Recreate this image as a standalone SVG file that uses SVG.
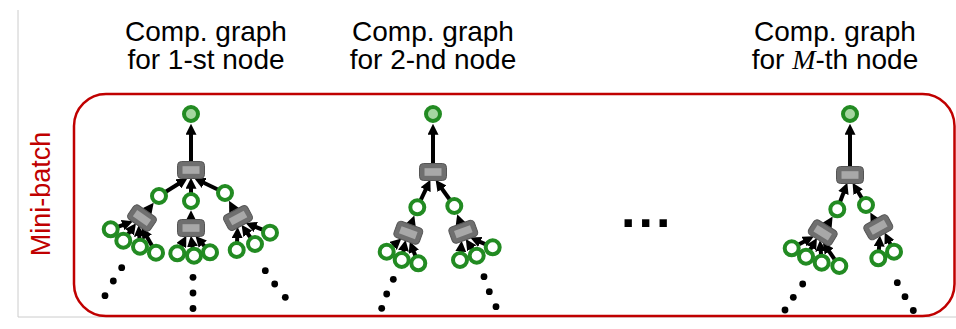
<svg xmlns="http://www.w3.org/2000/svg" xmlns:xlink="http://www.w3.org/1999/xlink" width="956" height="329" viewBox="0 0 956 329">
<style>
.title{font-family:"Liberation Sans",Arial,sans-serif;font-size:28px;fill:#000}
.math{font-family:"Liberation Serif","Times New Roman",serif;font-style:italic}
.side{font-family:"Liberation Sans",Arial,sans-serif;font-size:27px;fill:#c00000}
.leaf{fill:#fff;stroke:#228b22;stroke-width:4}
.root{fill:#a5d6a0;stroke:#228b22;stroke-width:4}
.edge{stroke:#000;stroke-width:4;fill:none;marker-end:url(#ah)}
.dot{fill:#000}
.ao{fill:#6f6f6f;stroke:#555;stroke-width:1}
.ai{fill:#a8a8a8}
</style>
<defs>
<marker id="ah" viewBox="0 0 10 10" refX="2" refY="5" markerWidth="11" markerHeight="11" markerUnits="userSpaceOnUse" orient="auto">
<path d="M0,0 L10,5 L0,10 z" fill="#000"/>
</marker>
<g id="agg">
<rect class="ao" x="-13.5" y="-8.5" width="27" height="17" rx="4"/>
<rect class="ai" x="-8.5" y="-3.8" width="17" height="7.6"/>
</g>
</defs>

<polyline points="18,10 18,317 956,317" fill="none" stroke="#cccccc" stroke-width="1"/>
<rect x="74" y="94" width="880.5" height="222" rx="32" fill="none" stroke="#c00000" stroke-width="2.5"/>
<text class="side" transform="translate(50,194) rotate(-90)" text-anchor="middle">Mini-batch</text>

<g id="titles">
<text class="title" x="206" y="41" text-anchor="middle">Comp. graph</text>
<text class="title" x="206" y="69" text-anchor="middle">for 1-st node</text>
<text class="title" x="433" y="41" text-anchor="middle">Comp. graph</text>
<text class="title" x="433" y="69" text-anchor="middle">for 2-nd node</text>
<text class="title" x="835" y="41" text-anchor="middle">Comp. graph</text>
<text class="title" x="835" y="69" text-anchor="middle">for <tspan class="math">M</tspan>-th node</text>
</g>

<g id="connectors">
<!-- graph 1 -->
<line class="edge" x1="191" y1="170" x2="191" y2="132.5"/>
<line class="edge" x1="159" y1="196" x2="180.2" y2="182.7"/>
<line class="edge" x1="191" y1="201" x2="191" y2="186.5"/>
<line class="edge" x1="225" y1="193" x2="202.2" y2="182"/>
<line class="edge" x1="142" y1="218" x2="148.3" y2="209.8"/>
<line class="edge" x1="191" y1="228" x2="191" y2="219"/>
<line class="edge" x1="238" y1="218" x2="233.1" y2="208.5"/>
<line class="edge" x1="110.7" y1="229.3" x2="124.7" y2="224.3"/>
<line class="edge" x1="123.3" y1="240.7" x2="130.8" y2="230.4"/>
<line class="edge" x1="140" y1="246.7" x2="139.2" y2="234.1"/>
<line class="edge" x1="156" y1="252.7" x2="146" y2="235.3"/>
<line class="edge" x1="177.3" y1="253.3" x2="182.3" y2="243.6"/>
<line class="edge" x1="194" y1="255.7" x2="192.2" y2="244.4"/>
<line class="edge" x1="210" y1="252.3" x2="201.3" y2="242.5"/>
<line class="edge" x1="236.7" y1="250" x2="237.3" y2="235.9"/>
<line class="edge" x1="255" y1="244" x2="246.6" y2="232"/>
<line class="edge" x1="270" y1="232.7" x2="253.8" y2="226.2"/>
<!-- graph 2 -->
<line class="edge" x1="433" y1="172" x2="433" y2="132.5"/>
<line class="edge" x1="417.3" y1="207.3" x2="426.6" y2="187.7"/>
<line class="edge" x1="454.3" y1="206" x2="440.7" y2="187"/>
<line class="edge" x1="408.3" y1="232.7" x2="411.4" y2="223.8"/>
<line class="edge" x1="463.3" y1="231.7" x2="460.1" y2="222.5"/>
<line class="edge" x1="386.7" y1="251.7" x2="394.8" y2="244.4"/>
<line class="edge" x1="401.7" y1="260" x2="403.9" y2="248.6"/>
<line class="edge" x1="418.3" y1="263.3" x2="413" y2="249.8"/>
<line class="edge" x1="460" y1="260" x2="460.9" y2="249.4"/>
<line class="edge" x1="476.7" y1="255.7" x2="470.6" y2="246.4"/>
<line class="edge" x1="492.7" y1="247.3" x2="478.3" y2="241.1"/>
<!-- graph 3 -->
<line class="edge" x1="850" y1="175" x2="850" y2="132.5"/>
<line class="edge" x1="837.3" y1="209.3" x2="844.2" y2="191"/>
<line class="edge" x1="866" y1="205" x2="857.1" y2="190.3"/>
<line class="edge" x1="822.7" y1="232.7" x2="828" y2="224.1"/>
<line class="edge" x1="878.3" y1="227.3" x2="874.5" y2="220.3"/>
<line class="edge" x1="791.7" y1="248.3" x2="806.1" y2="240.5"/>
<line class="edge" x1="806" y1="256.7" x2="812.5" y2="245.7"/>
<line class="edge" x1="821.7" y1="262.7" x2="820.6" y2="249"/>
<line class="edge" x1="839.3" y1="266" x2="827.9" y2="249.7"/>
<line class="edge" x1="878.3" y1="258.3" x2="879.3" y2="244.2"/>
<line class="edge" x1="894" y1="251.7" x2="888.5" y2="240.4"/>
</g>

<!-- graph 1 nodes -->
<g id="g1-root"><circle class="root" cx="191" cy="114" r="7"/></g>
<g id="g1-agg" transform="translate(191,170)"><use xlink:href="#agg"/></g>
<g id="g1-c1"><circle class="leaf" cx="159" cy="196" r="7"/></g>
<g id="g1-c2"><circle class="leaf" cx="191" cy="201" r="7"/></g>
<g id="g1-c3"><circle class="leaf" cx="225" cy="193" r="7"/></g>
<g id="g1-agg-l" transform="translate(142,218) rotate(35)"><use xlink:href="#agg"/></g>
<g id="g1-agg-m" transform="translate(191,228)"><use xlink:href="#agg"/></g>
<g id="g1-agg-r" transform="translate(238,218) rotate(-28)"><use xlink:href="#agg"/></g>
<g id="g1-l1"><circle class="leaf" cx="110.7" cy="229.3" r="7"/></g>
<g id="g1-l2"><circle class="leaf" cx="123.3" cy="240.7" r="7"/></g>
<g id="g1-l3"><circle class="leaf" cx="140" cy="246.7" r="7"/></g>
<g id="g1-l4"><circle class="leaf" cx="156" cy="252.7" r="7"/></g>
<g id="g1-m1"><circle class="leaf" cx="177.3" cy="253.3" r="7"/></g>
<g id="g1-m2"><circle class="leaf" cx="194" cy="255.7" r="7"/></g>
<g id="g1-m3"><circle class="leaf" cx="210" cy="252.3" r="7"/></g>
<g id="g1-r1"><circle class="leaf" cx="236.7" cy="250" r="7"/></g>
<g id="g1-r2"><circle class="leaf" cx="255" cy="244" r="7"/></g>
<g id="g1-r3"><circle class="leaf" cx="270" cy="232.7" r="7"/></g>
<g id="g1-dots">
<circle class="dot" cx="121.7" cy="267.7" r="3.4"/><circle class="dot" cx="113.3" cy="281" r="3.4"/><circle class="dot" cx="105" cy="295.7" r="3.4"/>
<circle class="dot" cx="193" cy="277.3" r="3.4"/><circle class="dot" cx="193" cy="293" r="3.4"/><circle class="dot" cx="193" cy="308.5" r="3.4"/>
<circle class="dot" cx="265.3" cy="270.7" r="3.4"/><circle class="dot" cx="274.7" cy="284" r="3.4"/><circle class="dot" cx="285.3" cy="297.3" r="3.4"/>
</g>

<!-- graph 2 nodes -->
<g id="g2-root"><circle class="root" cx="433" cy="114" r="7"/></g>
<g id="g2-agg" transform="translate(433,172)"><use xlink:href="#agg"/></g>
<g id="g2-c1"><circle class="leaf" cx="417.3" cy="207.3" r="7"/></g>
<g id="g2-c2"><circle class="leaf" cx="454.3" cy="206" r="7"/></g>
<g id="g2-agg-l" transform="translate(408.3,232.7) rotate(20)"><use xlink:href="#agg"/></g>
<g id="g2-agg-r" transform="translate(463.3,231.7) rotate(-20)"><use xlink:href="#agg"/></g>
<g id="g2-l1"><circle class="leaf" cx="386.7" cy="251.7" r="7"/></g>
<g id="g2-l2"><circle class="leaf" cx="401.7" cy="260" r="7"/></g>
<g id="g2-l3"><circle class="leaf" cx="418.3" cy="263.3" r="7"/></g>
<g id="g2-r1"><circle class="leaf" cx="460" cy="260" r="7"/></g>
<g id="g2-r2"><circle class="leaf" cx="476.7" cy="255.7" r="7"/></g>
<g id="g2-r3"><circle class="leaf" cx="492.7" cy="247.3" r="7"/></g>
<g id="g2-dots">
<circle class="dot" cx="393.3" cy="279.3" r="3.4"/><circle class="dot" cx="386.7" cy="294" r="3.4"/><circle class="dot" cx="381.7" cy="308.3" r="3.4"/>
<circle class="dot" cx="484" cy="276.7" r="3.4"/><circle class="dot" cx="489.3" cy="291.7" r="3.4"/><circle class="dot" cx="496" cy="306.7" r="3.4"/>
</g>

<text id="ellipsis" x="621" y="227" font-family="Liberation Sans, Arial, sans-serif" font-weight="bold" font-size="52" letter-spacing="3">...</text>

<!-- graph 3 nodes -->
<g id="g3-root"><circle class="root" cx="850" cy="114" r="7"/></g>
<g id="g3-agg" transform="translate(850,175)"><use xlink:href="#agg"/></g>
<g id="g3-c1"><circle class="leaf" cx="837.3" cy="209.3" r="7"/></g>
<g id="g3-c2"><circle class="leaf" cx="866" cy="205" r="7"/></g>
<g id="g3-agg-l" transform="translate(822.7,232.7) rotate(32)"><use xlink:href="#agg"/></g>
<g id="g3-agg-r" transform="translate(878.3,227.3) rotate(-29)"><use xlink:href="#agg"/></g>
<g id="g3-l1"><circle class="leaf" cx="791.7" cy="248.3" r="7"/></g>
<g id="g3-l2"><circle class="leaf" cx="806" cy="256.7" r="7"/></g>
<g id="g3-l3"><circle class="leaf" cx="821.7" cy="262.7" r="7"/></g>
<g id="g3-l4"><circle class="leaf" cx="839.3" cy="266" r="7"/></g>
<g id="g3-r1"><circle class="leaf" cx="878.3" cy="258.3" r="7"/></g>
<g id="g3-r2"><circle class="leaf" cx="894" cy="251.7" r="7"/></g>
<g id="g3-dots">
<circle class="dot" cx="802.7" cy="284" r="3.4"/><circle class="dot" cx="793.3" cy="297.3" r="3.4"/><circle class="dot" cx="785" cy="310" r="3.4"/>
<circle class="dot" cx="897.3" cy="282.7" r="3.4"/><circle class="dot" cx="905" cy="296.7" r="3.4"/><circle class="dot" cx="913.3" cy="310.5" r="3.4"/>
</g>
</svg>
